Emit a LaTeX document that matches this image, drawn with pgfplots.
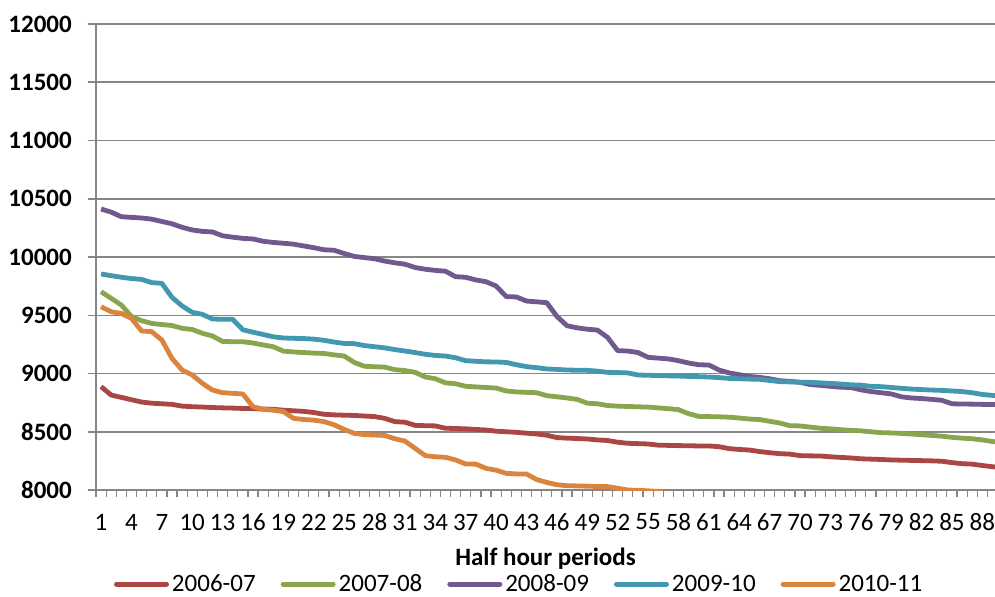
\documentclass[border=0pt]{standalone}
\usepackage{pgfplots}
\pgfplotsset{compat=1.18}
\usepackage{fontspec}
\setmainfont{Carlito}

\definecolor{cRed}{HTML}{AA4643}
\definecolor{cGreen}{HTML}{89A54E}
\definecolor{cPurple}{HTML}{71588F}
\definecolor{cCyan}{HTML}{4198AF}
\definecolor{cOrange}{HTML}{DB843D}
\definecolor{cGrid}{HTML}{868686}

\begin{document}
\begin{tikzpicture}
\begin{axis}[
  scale only axis,
  width=899bp, height=466bp,
  xmin=0.5, xmax=89.25,
  ymin=8000, ymax=12000,
  axis x line*=bottom, axis y line*=left,
  axis line style={draw=cGrid, line width=1.5bp, -},
  ytick={8000,8500,...,12000},
  scaled y ticks=false,
  yticklabel={\pgfmathprintnumber[fixed,precision=0,1000 sep={}]{\tick}},
  ymajorgrids,
  major grid style={draw=cGrid, line width=1.5bp},
  xtick={1,4,...,88},
  minor xtick={0.5,1.5,...,89.5},
  tick align=outside,
  major tick length=8bp,
  minor tick length=7bp,
  major x tick style={draw=none},
  minor x tick style={draw=cGrid, line width=1.2bp},
  major y tick style={draw=cGrid, line width=1.5bp},
  /pgf/number format/assume math mode=true,
  /pgf/number format/1000 sep={},
  yticklabel style={font=\fontsize{25bp}{29bp}\selectfont\bfseries, anchor=east, inner sep=0pt, xshift=-16bp},
  xticklabel style={font=\fontsize{25bp}{29bp}\selectfont, anchor=center, inner sep=0pt, yshift=-24bp},
  xlabel={Half hour periods},
  xlabel style={font=\fontsize{25bp}{29bp}\selectfont\bfseries, anchor=center, at={(axis description cs:0.5,0)}, yshift=-69bp},
  legend columns=5,
  legend style={draw=none, fill=none, inner sep=0pt, outer sep=0pt,
    at={(axis description cs:0,0)}, anchor=west, xshift=18bp, yshift=-94bp,
    font=\fontsize{25bp}{29bp}\selectfont,
    /tikz/every even column/.append style={column sep=23bp},
    /tikz/every odd column/.append style={column sep=1bp}},
  legend image code/.code={\draw[#1, line width=5bp, line cap=round] (0bp,0bp) -- (50bp,0bp);},
  every axis plot/.append style={line width=4.8bp, line join=round, no markers},
  clip=true,
]
% 2006-07
\addplot[cRed] coordinates {
(1,8887)(2,8815)(3,8795)(4,8775)(5,8755)(6,8745)(7,8740)(8,8735)(9,8720)(10,8715)
(11,8712)(12,8708)(13,8705)(14,8703)(15,8700)(16,8698)(17,8695)(18,8693)(19,8685)(20,8680)
(21,8675)(22,8665)(23,8650)(24,8645)(25,8642)(26,8640)(27,8635)(28,8630)(29,8615)(30,8587)
(31,8582)(32,8555)(33,8552)(34,8550)(35,8530)(36,8528)(37,8525)(38,8520)(39,8515)(40,8505)
(41,8500)(42,8495)(43,8488)(44,8481)(45,8470)(46,8450)(47,8445)(48,8442)(49,8438)(50,8430)
(51,8425)(52,8410)(53,8401)(54,8398)(55,8395)(56,8385)(57,8383)(58,8381)(59,8380)(60,8378)
(61,8378)(62,8372)(63,8355)(64,8348)(65,8343)(66,8330)(67,8320)(68,8312)(69,8308)(70,8295)
(71,8293)(72,8292)(73,8285)(74,8280)(75,8275)(76,8268)(77,8265)(78,8262)(79,8258)(80,8256)
(81,8254)(82,8252)(83,8250)(84,8247)(85,8235)(86,8226)(87,8222)(88,8210)(89,8200)(90,8190)
};
\addlegendentry{2006-07}
% 2007-08
\addplot[cGreen] coordinates {
(1,9702)(2,9645)(3,9588)(4,9490)(5,9453)(6,9430)(7,9420)(8,9412)(9,9388)(10,9378)
(11,9345)(12,9322)(13,9275)(14,9273)(15,9272)(16,9262)(17,9245)(18,9230)(19,9192)(20,9185)
(21,9180)(22,9175)(23,9172)(24,9160)(25,9150)(26,9095)(27,9062)(28,9058)(29,9055)(30,9033)
(31,9025)(32,9010)(33,8970)(34,8955)(35,8920)(36,8912)(37,8890)(38,8885)(39,8880)(40,8875)
(41,8850)(42,8842)(43,8838)(44,8835)(45,8810)(46,8800)(47,8790)(48,8778)(49,8745)(50,8740)
(51,8725)(52,8720)(53,8717)(54,8714)(55,8712)(56,8705)(57,8698)(58,8690)(59,8655)(60,8632)
(61,8630)(62,8628)(63,8625)(64,8618)(65,8609)(66,8605)(67,8590)(68,8575)(69,8552)(70,8550)
(71,8540)(72,8530)(73,8525)(74,8518)(75,8512)(76,8508)(77,8500)(78,8492)(79,8490)(80,8486)
(81,8480)(82,8475)(83,8468)(84,8462)(85,8452)(86,8445)(87,8440)(88,8430)(89,8416)(90,8410)
};
\addlegendentry{2007-08}
% 2008-09
\addplot[cPurple] coordinates {
(1,10412)(2,10385)(3,10346)(4,10340)(5,10335)(6,10325)(7,10305)(8,10285)(9,10255)(10,10232)
(11,10220)(12,10215)(13,10182)(14,10170)(15,10160)(16,10155)(17,10135)(18,10125)(19,10118)(20,10110)
(21,10095)(22,10080)(23,10062)(24,10058)(25,10030)(26,10005)(27,9995)(28,9985)(29,9965)(30,9950)
(31,9938)(32,9910)(33,9895)(34,9885)(35,9878)(36,9831)(37,9826)(38,9803)(39,9788)(40,9751)
(41,9660)(42,9657)(43,9622)(44,9615)(45,9608)(46,9490)(47,9410)(48,9392)(49,9380)(50,9373)
(51,9310)(52,9196)(53,9193)(54,9180)(55,9139)(56,9132)(57,9125)(58,9110)(59,9090)(60,9075)
(61,9073)(62,9030)(63,9005)(64,8990)(65,8975)(66,8967)(67,8955)(68,8938)(69,8932)(70,8925)
(71,8905)(72,8898)(73,8890)(74,8882)(75,8880)(76,8860)(77,8845)(78,8835)(79,8825)(80,8800)
(81,8790)(82,8785)(83,8778)(84,8770)(85,8740)(86,8738)(87,8737)(88,8735)(89,8734)(90,8730)
};
\addlegendentry{2008-09}
% 2009-10
\addplot[cCyan] coordinates {
(1,9854)(2,9840)(3,9826)(4,9815)(5,9808)(6,9780)(7,9774)(8,9654)(9,9580)(10,9525)
(11,9508)(12,9468)(13,9465)(14,9465)(15,9375)(16,9355)(17,9335)(18,9315)(19,9305)(20,9302)
(21,9300)(22,9295)(23,9285)(24,9270)(25,9258)(26,9256)(27,9240)(28,9230)(29,9220)(30,9205)
(31,9193)(32,9180)(33,9165)(34,9155)(35,9150)(36,9135)(37,9110)(38,9105)(39,9100)(40,9099)
(41,9095)(42,9075)(43,9059)(44,9050)(45,9039)(46,9035)(47,9030)(48,9028)(49,9027)(50,9020)
(51,9010)(52,9008)(53,9005)(54,8987)(55,8985)(56,8982)(57,8980)(58,8978)(59,8975)(60,8973)
(61,8970)(62,8965)(63,8958)(64,8955)(65,8952)(66,8950)(67,8940)(68,8930)(69,8928)(70,8925)
(71,8924)(72,8920)(73,8915)(74,8910)(75,8903)(76,8900)(77,8890)(78,8887)(79,8880)(80,8873)
(81,8866)(82,8862)(83,8858)(84,8855)(85,8850)(86,8845)(87,8835)(88,8820)(89,8812)(90,8805)
};
\addlegendentry{2009-10}
% 2010-11 (falls below the axis minimum after period 53)
\addplot[cOrange] coordinates {
(1,9573)(2,9530)(3,9516)(4,9473)(5,9365)(6,9359)(7,9288)(8,9130)(9,9030)(10,8987)
(11,8916)(12,8858)(13,8835)(14,8830)(15,8824)(16,8715)(17,8693)(18,8685)(19,8673)(20,8615)
(21,8605)(22,8600)(23,8587)(24,8560)(25,8520)(26,8486)(27,8475)(28,8472)(29,8468)(30,8440)
(31,8420)(32,8358)(33,8295)(34,8285)(35,8281)(36,8258)(37,8223)(38,8222)(39,8186)(40,8170)
(41,8143)(42,8138)(43,8137)(44,8090)(45,8065)(46,8045)(47,8037)(48,8035)(49,8033)(50,8030)
(51,8029)(52,8015)(53,8000)(54,7997)(55,7993)(56,7988)(57,7960)(58,7900)
};
\addlegendentry{2010-11}
\end{axis}
\pgfresetboundingbox
\path[use as bounding box] (-96bp,-107bp) rectangle (899bp,490bp);
\end{tikzpicture}
\end{document}
